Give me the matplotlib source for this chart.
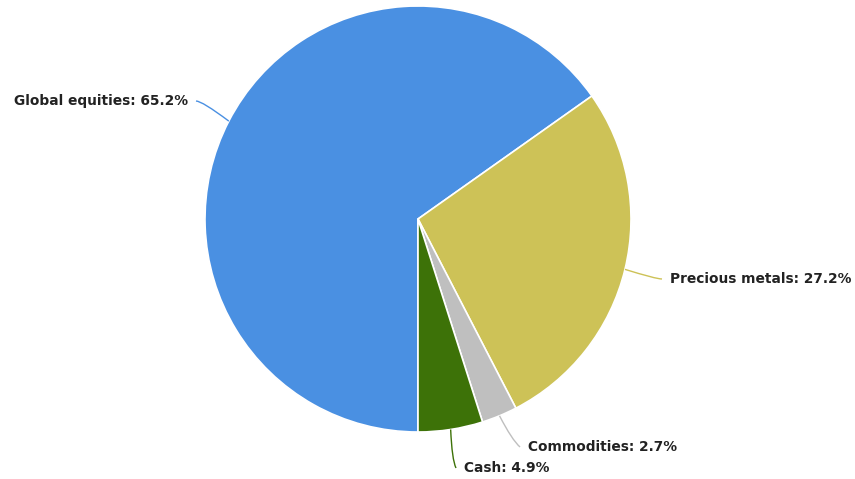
import numpy as np
import matplotlib
matplotlib.use("Agg")
import matplotlib.pyplot as plt
from matplotlib.path import Path
from matplotlib.patches import PathPatch

# data
labels = ["Global equities", "Precious metals", "Commodities", "Cash"]
shares = [65.2, 27.2, 2.7, 4.9]
colors = ["#4a90e2", "#cdc257", "#bfbfbf", "#3d7208"]

# layout (pixel coords, y up)
W, H = 855, 479
cx, cy, R = 418, H - 219, 213
# label anchor, bend point, alignment
label_pos = {
    "Global equities": ((192, H - 101), (202, H - 101), "right"),
    "Precious metals": ((666, H - 279), (656, H - 279), "left"),
    "Commodities": ((524, H - 447), (512, H - 440), "left"),
    "Cash": ((460, H - 468), (452, H - 460), "left"),
}

fig = plt.figure(figsize=(W / 100, H / 100), dpi=100)
ax = fig.add_axes([0, 0, 1, 1])

wedges, _ = ax.pie(shares, colors=colors, startangle=-90, counterclock=False,
                   center=(cx, cy), radius=R, frame=True,
                   wedgeprops=dict(edgecolor="white", linewidth=1.2))
ax.set_xlim(0, W)
ax.set_ylim(0, H)
ax.set_aspect("equal")
ax.axis("off")

for w, lab, val, col in zip(wedges, labels, shares, colors):
    mid = np.deg2rad((w.theta1 + w.theta2) / 2)
    ex, ey = cx + R * np.cos(mid), cy + R * np.sin(mid)
    (tx, ty), (bx, by), ha = label_pos[lab]
    end_x = tx - 4 if ha == "left" else tx + 4
    p = Path([(ex, ey), (bx, by), (end_x, ty)], [Path.MOVETO, Path.CURVE3, Path.CURVE3])
    ax.add_patch(PathPatch(p, fill=False, edgecolor=col, lw=1))
    ax.text(tx + (4 if ha == "left" else -4), ty, f"{lab}: {val}%", ha=ha, va="center",
            fontsize=9.9, fontweight="bold", color="#222222", family="DejaVu Sans")

fig.savefig("out.png", dpi=100)
